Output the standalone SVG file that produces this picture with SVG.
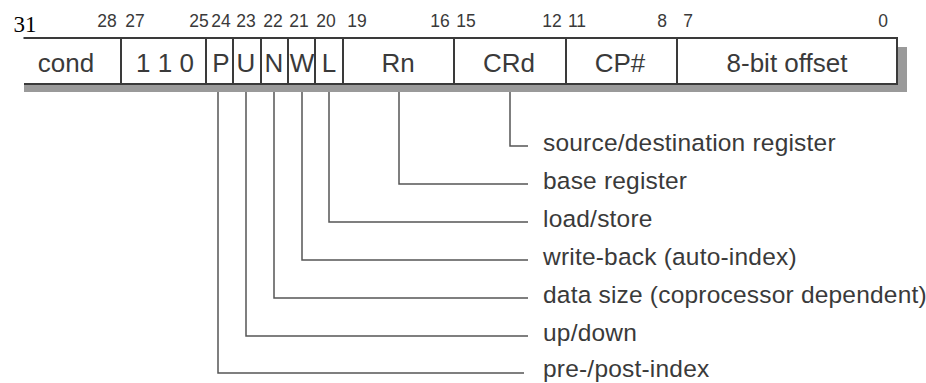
<svg xmlns="http://www.w3.org/2000/svg" width="926" height="383" viewBox="0 0 926 383">
<style>
.num{font-family:"Liberation Sans",Arial,sans-serif;font-size:17.5px;fill:#3a3a3a;text-anchor:middle}
.fld{font-family:"Liberation Sans",Arial,sans-serif;font-size:26px;fill:#3a3a3a;text-anchor:middle}
.lbl{font-family:"Liberation Sans",Arial,sans-serif;font-size:24.5px;letter-spacing:0.2px;fill:#3a3a3a}
.box{fill:#fff;stroke:#3a3a3a;stroke-width:2}
.div{stroke:#3a3a3a;stroke-width:2}
.con{fill:none;stroke:#555;stroke-width:1.5}
</style>
<rect width="926" height="383" fill="#fff"/>
<g id="shadow">
<rect x="24" y="84" width="883" height="8" fill="#9a9a9a"/>
<rect x="897" y="47" width="10" height="45" fill="#9a9a9a"/>
</g>
<g id="bitnumbers">
<text x="25" y="32" style="font-family:'Liberation Serif','Times New Roman',serif;font-size:23px;fill:#000;text-anchor:middle">31</text>
<line x1="23" y1="38" x2="41" y2="38" stroke="#333" stroke-width="1"/>
<text class="num" x="107" y="27">28</text>
<text class="num" x="135" y="27">27</text>
<text class="num" x="199" y="27">25</text>
<text class="num" x="221" y="27">24</text>
<text class="num" x="246" y="27">23</text>
<text class="num" x="273" y="27">22</text>
<text class="num" x="299" y="27">21</text>
<text class="num" x="326" y="27">20</text>
<text class="num" x="357" y="27">19</text>
<text class="num" x="440" y="27">16</text>
<text class="num" x="466" y="27">15</text>
<text class="num" x="552" y="27">12</text>
<text class="num" x="577" y="27">11</text>
<text class="num" x="662" y="27">8</text>
<text class="num" x="688" y="27">7</text>
<text class="num" x="883" y="27">0</text>
</g>
<g id="register">
<path d="M24 38 H897 V84 H24" class="box"/>
<g id="f-cond"><text class="fld" x="66" y="72">cond</text></g>
<g id="f-110"><line class="div" x1="121" y1="38" x2="121" y2="84"/><text class="fld" x="165" y="72">1 1 0</text></g>
<g id="f-P"><line class="div" x1="206" y1="38" x2="206" y2="84"/><text class="fld" x="221" y="72">P</text></g>
<g id="f-U"><line class="div" x1="233" y1="38" x2="233" y2="84"/><text class="fld" x="246" y="72">U</text></g>
<g id="f-N"><line class="div" x1="261" y1="38" x2="261" y2="84"/><text class="fld" x="274" y="72">N</text></g>
<g id="f-W"><line class="div" x1="288" y1="38" x2="288" y2="84"/><text class="fld" x="302" y="72">W</text></g>
<g id="f-L"><line class="div" x1="315" y1="38" x2="315" y2="84"/><text class="fld" x="329" y="72">L</text></g>
<g id="f-Rn"><line class="div" x1="343" y1="38" x2="343" y2="84"/><text class="fld" x="398" y="72">Rn</text></g>
<g id="f-CRd"><line class="div" x1="454" y1="38" x2="454" y2="84"/><text class="fld" x="509" y="72">CRd</text></g>
<g id="f-CP"><line class="div" x1="566" y1="38" x2="566" y2="84"/><text class="fld" x="620" y="72">CP#</text></g>
<g id="f-off"><line class="div" x1="677" y1="38" x2="677" y2="84"/><text class="fld" x="787" y="72">8-bit offset</text></g>
</g>
<g id="connectors">
<path class="con" d="M510 92 V146 H528"/>
<path class="con" d="M399 92 V184 H528"/>
<path class="con" d="M329 92 V222 H528"/>
<path class="con" d="M302 92 V260 H528"/>
<path class="con" d="M274 92 V298 H528"/>
<path class="con" d="M246 92 V336 H528"/>
<path class="con" d="M218 92 V373 H524"/>
</g>
<g id="labels">
<text class="lbl" x="543" y="151">source/destination register</text>
<text class="lbl" x="543" y="189">base register</text>
<text class="lbl" x="543" y="227">load/store</text>
<text class="lbl" x="543" y="265">write-back (auto-index)</text>
<text class="lbl" x="543" y="303">data size (coprocessor dependent)</text>
<text class="lbl" x="543" y="341">up/down</text>
<text class="lbl" x="543" y="377">pre-/post-index</text>
</g>
</svg>
